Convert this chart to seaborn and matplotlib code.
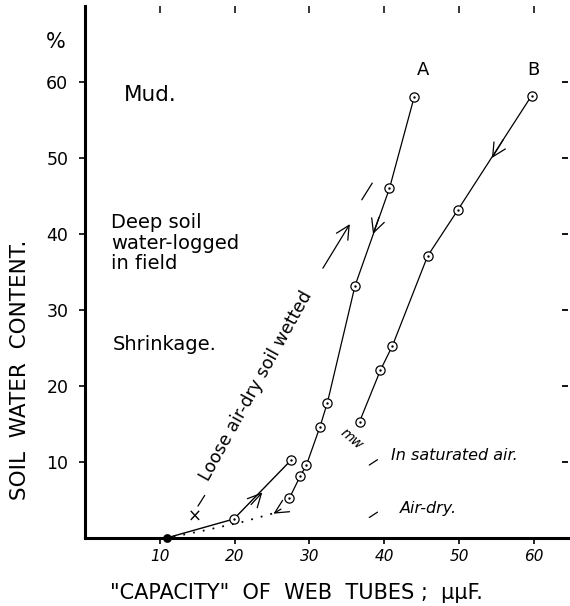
import matplotlib
matplotlib.use("Agg")
import matplotlib.pyplot as plt
import seaborn as sns

# ---- data ----
a_capacity = [44.0, 40.7, 36.1, 32.4, 31.4, 29.6, 28.8, 27.3]
a_water = [58.0, 46.0, 33.2, 17.8, 14.6, 9.6, 8.2, 5.2]
b_capacity = [59.7, 49.8, 45.8, 41.1, 39.5, 36.7]
b_water = [58.2, 43.1, 37.1, 25.3, 22.1, 15.3]
wet_capacity = [10.9, 19.9, 27.6]
wet_water = [0.0, 2.5, 10.3]
dry_capacity = [25.0, 21.0, 16.0, 10.9]
dry_water = [3.2, 2.1, 1.0, 0.0]
origin_capacity = [10.9]
origin_water = [0.0]
x_ticks = [10, 20, 30, 40, 50, 60]
y_ticks = [10, 20, 30, 40, 50, 60]
x_label = '"CAPACITY"  OF  WEB  TUBES ;  μμF.'
y_label = "SOIL  WATER  CONTENT."

sns.set_theme(style="white")
plt.rcParams["font.family"] = ["DejaVu Sans"]

fig = plt.figure(figsize=(5.70, 6.06), dpi=100)
ax = fig.add_axes([85 / 570, 68 / 606, 482.5 / 570, 532 / 606])
ax.set_xlim(0, 64.5)
ax.set_ylim(0, 70)

lc = "black"
sns.lineplot(x=a_capacity, y=a_water, sort=False, estimator=None, color=lc, lw=0.9, ax=ax)
sns.lineplot(x=b_capacity, y=b_water, sort=False, estimator=None, color=lc, lw=0.9, ax=ax)
sns.lineplot(x=wet_capacity, y=wet_water, sort=False, estimator=None, color=lc, lw=1.0, ax=ax)
sns.lineplot(x=dry_capacity, y=dry_water, sort=False, estimator=None, color=lc, lw=1.3,
             linestyle=(0, (1, 4.5)), ax=ax)

pts_x = a_capacity + b_capacity + wet_capacity[1:]
pts_y = a_water + b_water + wet_water[1:]
sns.scatterplot(x=pts_x, y=pts_y, marker="o", s=44, facecolor="white", edgecolor=lc,
                linewidth=0.9, zorder=4, ax=ax)
sns.scatterplot(x=pts_x, y=pts_y, marker="o", s=3, color=lc, linewidth=0, zorder=5, ax=ax)
sns.scatterplot(x=origin_capacity, y=origin_water, marker="o", s=40, color=lc,
                linewidth=0, zorder=5, ax=ax, clip_on=False)

# arrows along curves
arrow_kw = dict(arrowstyle="->,head_length=0.8,head_width=0.4", color=lc, lw=0.9,
                shrinkA=0, shrinkB=0)
for tail, tip in [((39.3, 42.2), (38.5, 40.0)),
                  ((55.9, 52.4), (54.4, 50.0)),
                  ((22.2, 4.4), (23.7, 6.0)),
                  ((26.2, 3.8), (25.2, 3.2))]:
    ax.annotate("", xy=tip, xytext=tail, arrowprops=arrow_kw)

# dashed arrow along the "Loose air-dry soil wetted" note
line_kw = dict(arrowstyle="-", color=lc, lw=0.9, shrinkA=0, shrinkB=0)
ax.annotate("", xy=(35.4, 41.3), xytext=(31.8, 35.5), arrowprops=arrow_kw)
ax.annotate("", xy=(38.4, 46.7), xytext=(37.0, 44.5), arrowprops=line_kw)
ax.annotate("", xy=(16.0, 5.6), xytext=(15.1, 4.2), arrowprops=line_kw)
# small marker dashes beside the right-hand notes
ax.annotate("", xy=(39.1, 10.3), xytext=(38.0, 9.6), arrowprops=line_kw)
ax.annotate("", xy=(39.1, 3.4), xytext=(38.0, 2.7), arrowprops=line_kw)
ax.text(14.7, 2.8, "×", fontsize=12, ha="center", va="center", color=lc)
ax.text(22.9, 20.0, "Loose air-dry soil wetted", rotation=61, fontsize=12.5,
        ha="center", va="center", rotation_mode="anchor", color=lc)

# annotations
ax.text(-3.9, 65.3, "%", fontsize=15, ha="center", va="center", clip_on=False, color=lc)
ax.text(5.2, 58.3, "Mud.", fontsize=15.5, ha="left", va="center", color=lc)
ax.text(3.5, 38.8, "Deep soil\nwater-logged\nin field", fontsize=14, ha="left",
        va="center", linespacing=1.1, color=lc)
ax.text(3.7, 25.4, "Shrinkage.", fontsize=14, ha="left", va="center", color=lc)
ax.text(45.2, 61.6, "A", fontsize=13, ha="center", va="center", color=lc)
ax.text(59.9, 61.6, "B", fontsize=13, ha="center", va="center", color=lc)
ax.text(40.9, 10.9, "In saturated air.", fontsize=11.5, ha="left", va="center",
        style="italic", color=lc)
ax.text(42.1, 3.9, "Air-dry.", fontsize=11.5, ha="left", va="center", style="italic", color=lc)
ax.text(35.6, 13.0, "mw", fontsize=10, rotation=-40, ha="center", va="center",
        style="italic", color=lc)

# axes styling
for s in ["top", "right"]:
    ax.spines[s].set_visible(False)
for s in ["left", "bottom"]:
    ax.spines[s].set_linewidth(2.2)
    ax.spines[s].set_color(lc)
ax.set_xticks(x_ticks)
ax.set_yticks(y_ticks)
ax.set_xticklabels([str(t) for t in x_ticks], fontsize=11, style="italic")
ax.set_yticklabels([str(t) for t in y_ticks], fontsize=12.5)
ax.tick_params(axis="x", direction="out", length=4, width=1.2, pad=4, colors=lc, bottom=True)
ax.tick_params(axis="y", direction="out", length=4, width=1.2, pad=8, colors=lc, left=True)
ax.set_xlabel("")
ax.set_ylabel("")

top = ax.secondary_xaxis("top")
top.set_xticks(x_ticks)
top.set_xticklabels([])
top.tick_params(direction="in", length=5, width=1.1, colors=lc)
top.spines["top"].set_visible(False)

right = ax.secondary_yaxis("right")
right.set_yticks(y_ticks)
right.set_yticklabels([])
right.tick_params(direction="in", length=4, width=1.3, colors=lc)
right.spines["right"].set_visible(False)

fig.text(20 / 570, 1 - 370 / 606, y_label, rotation=90, fontsize=15.5, ha="center",
         va="center", color=lc)
fig.text(296 / 570, 1 - 593 / 606, x_label, fontsize=15, ha="center", va="center", color=lc)

fig.savefig("out.png", dpi=100, facecolor="white")
